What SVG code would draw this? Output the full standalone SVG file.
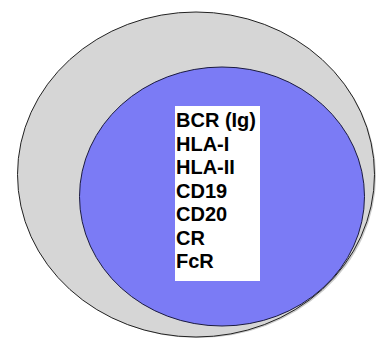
<svg xmlns="http://www.w3.org/2000/svg" width="377" height="339" viewBox="0 0 377 339">
<style>
.lbl{font-family:"Liberation Sans",Arial,sans-serif;font-weight:bold;font-size:20px;fill:#000}
</style>
<rect width="377" height="339" fill="#fff"/>
<g id="outer">
<ellipse cx="198" cy="176" rx="178" ry="162" fill="#cacaca"/>
<ellipse cx="196" cy="174.5" rx="178.5" ry="162.5" fill="#d6d6d6" stroke="#222" stroke-width="1"/>
</g>
<g id="inner">
<ellipse cx="222" cy="196.5" rx="142.5" ry="129.5" fill="#7b7bf5" stroke="#1a1a40" stroke-width="1"/>
</g>
<g id="labels">
<rect x="175" y="106" width="85" height="175" fill="#fff"/>
<text class="lbl" x="176" y="127">BCR (Ig)</text>
<text class="lbl" x="176" y="150.5">HLA-I</text>
<text class="lbl" x="176" y="174">HLA-II</text>
<text class="lbl" x="176" y="197.5">CD19</text>
<text class="lbl" x="176" y="221">CD20</text>
<text class="lbl" x="176" y="244.5">CR</text>
<text class="lbl" x="176" y="268">FcR</text>
</g>
</svg>
